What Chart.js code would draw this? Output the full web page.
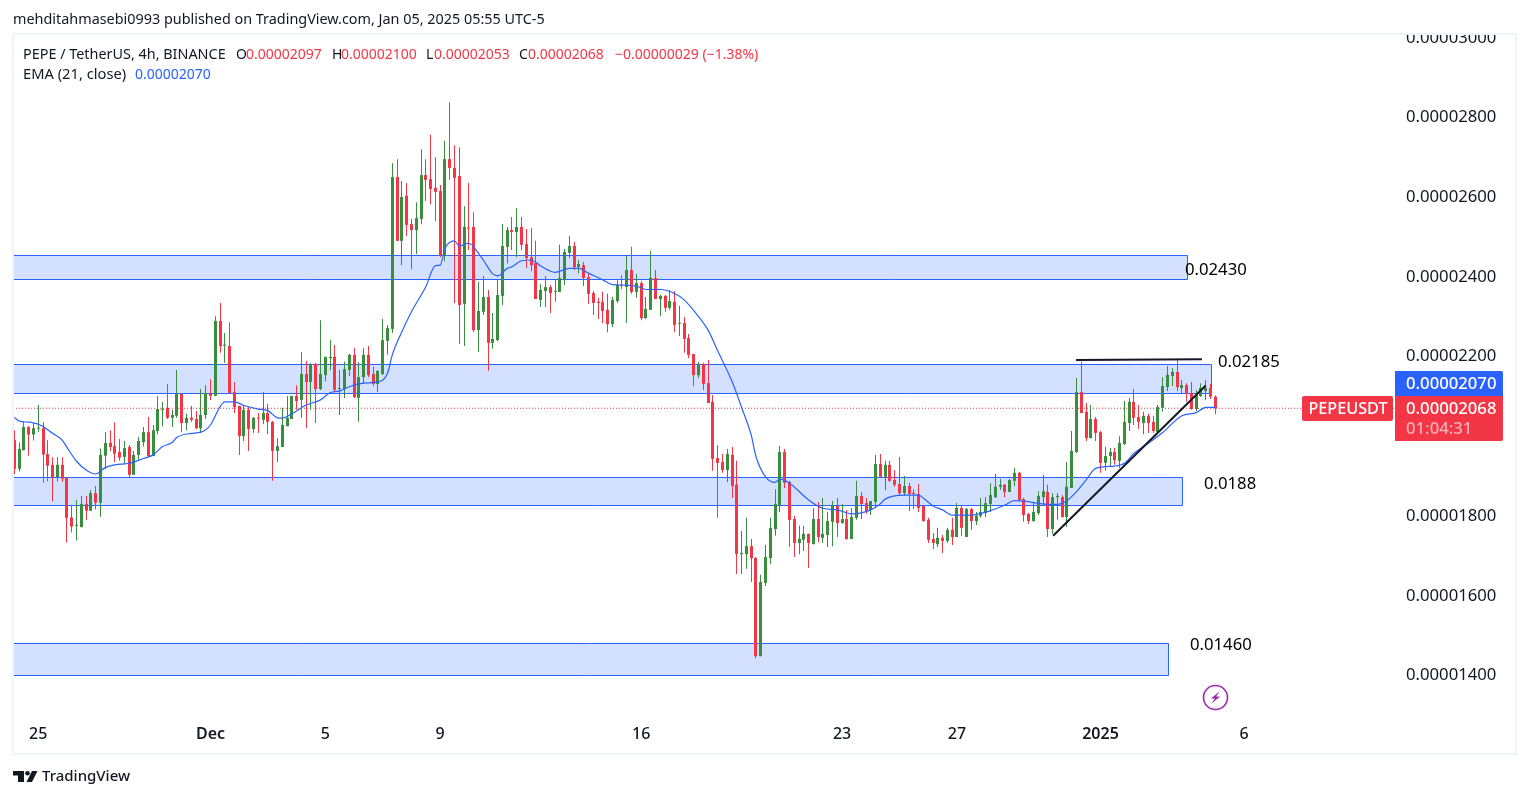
<!DOCTYPE html>
<html>
<head>
<meta charset="utf-8">
<title>PEPEUSDT 4h</title>
<script src="https://cdn.jsdelivr.net/npm/chart.js@4/dist/chart.umd.min.js"></script>
<style>
  html, body { margin: 0; padding: 0; background: #fff; }
  canvas { display: block; }
</style>
</head>
<body>
<canvas id="priceChart" width="1529" height="798"></canvas>
<script>
// prices are in units of 0.00000001
const opens = [
  1988,1916,1963,2021,2002,2017,2018,1953,1926,1895,
  1926,1895,1794,1773,1770,1828,1811,1855,1831,1949,
  1981,1973,1958,1946,1971,1901,1951,1983,2008,1948,
  2011,2064,2069,2044,2049,2104,2031,2044,2041,2018,
  2051,2106,2099,2287,2225,2224,2109,2074,1998,2064,
  2016,2044,2039,2056,2034,1961,1971,2023,2041,2099,
  2089,2154,2134,2179,2116,2151,2194,2197,2116,2116,
  2164,2202,2094,2146,2202,2154,2129,2154,2237,2267,
  2648,2488,2601,2530,2515,2543,2653,2643,2621,2613,
  2450,2693,2671,2651,2330,2520,2523,2264,2310,2347,
  2232,2239,2350,2473,2515,2510,2523,2480,2447,2432,
  2340,2362,2372,2360,2360,2392,2458,2475,2422,2427,
  2397,2357,2335,2335,2315,2279,2337,2377,2372,2415,
  2360,2382,2294,2315,2395,2342,2350,2320,2335,2280,
  2282,2244,2204,2151,2179,2131,2084,1943,1933,1913,
  1951,1876,1702,1702,1722,1692,1446,1630,1692,1765,
  1825,1958,1883,1790,1730,1738,1753,1727,1790,1743,
  1750,1783,1823,1780,1790,1740,1793,1848,1830,1813,
  1833,1928,1896,1926,1888,1878,1855,1873,1855,1853,
  1823,1788,1740,1727,1743,1735,1763,1745,1818,1745,
  1815,1785,1798,1805,1828,1845,1871,1876,1858,1886,
  1906,1840,1803,1785,1805,1845,1858,1765,1845,1845,
  1795,1868,1958,2109,2059,1993,2041,2008,1931,1948,
  1958,1936,1978,2031,2084,2046,2031,2049,2034,2008,
  2069,2121,2149,2159,2119,2126,2106,2066,2099,2111,
  2119,2097
];
const closes = [
  1916,1966,2021,2002,2018,2018,1952,1924,1895,1926,
  1891,1793,1771,1774,1828,1811,1855,1831,1951,1981,
  1971,1954,1944,1968,1901,1951,1986,2008,1948,2013,
  2066,2066,2044,2051,2104,2031,2044,2039,2018,2051,
  2106,2099,2287,2224,2227,2106,2071,1998,2064,2016,
  2044,2042,2056,2034,1961,1973,2026,2044,2099,2086,
  2154,2134,2179,2116,2154,2197,2197,2114,2119,2166,
  2202,2096,2146,2202,2151,2129,2162,2239,2269,2648,
  2488,2598,2528,2515,2545,2653,2641,2618,2611,2450,
  2693,2671,2646,2327,2523,2519,2264,2312,2347,2232,
  2242,2352,2475,2515,2510,2523,2478,2445,2427,2342,
  2365,2372,2357,2362,2395,2460,2475,2422,2430,2395,
  2355,2332,2332,2312,2279,2340,2377,2375,2415,2360,
  2382,2294,2317,2395,2342,2350,2320,2337,2277,2282,
  2242,2202,2151,2179,2129,2081,1941,1931,1913,1953,
  1873,1702,1705,1722,1692,1446,1632,1695,1768,1828,
  1958,1881,1788,1730,1740,1753,1730,1790,1745,1753,
  1785,1823,1780,1790,1740,1795,1848,1828,1810,1835,
  1928,1896,1926,1886,1876,1855,1873,1853,1853,1818,
  1785,1738,1730,1743,1735,1763,1745,1818,1768,1815,
  1785,1798,1808,1830,1850,1871,1876,1858,1888,1906,
  1838,1800,1785,1808,1848,1860,1765,1845,1848,1795,
  1871,1961,2109,2056,1993,2041,2006,1931,1948,1958,
  1938,1981,2034,2084,2044,2034,2049,2031,2011,2071,
  2124,2152,2159,2121,2126,2104,2066,2101,2119,2119,
  2097,2068
];
const highs = [
  2013,1982,2034,2023,2032,2076,2033,1988,1945,1945,
  1945,1895,1824,1838,1848,1848,1863,1873,1967,2008,
  2013,2033,1991,1986,1976,1961,1996,2021,2046,2026,
  2099,2084,2129,2064,2164,2106,2054,2074,2061,2116,
  2126,2141,2299,2332,2257,2284,2134,2074,2076,2071,
  2046,2056,2109,2079,2036,1993,2069,2099,2099,2126,
  2209,2187,2181,2182,2289,2197,2239,2227,2164,2185,
  2204,2219,2184,2219,2224,2172,2162,2292,2277,2683,
  2693,2638,2633,2543,2585,2718,2693,2754,2698,2628,
  2739,2836,2728,2723,2575,2633,2560,2385,2400,2365,
  2307,2390,2530,2523,2548,2570,2548,2518,2520,2488,
  2380,2400,2377,2390,2478,2468,2500,2485,2440,2435,
  2405,2362,2345,2360,2355,2347,2390,2402,2450,2473,
  2405,2387,2347,2463,2415,2352,2352,2365,2362,2325,
  2297,2254,2204,2184,2182,2189,2101,1976,1953,1966,
  1971,1936,1760,1793,1740,1695,1650,1725,1793,1865,
  1973,1966,1886,1798,1773,1773,1753,1818,1833,1843,
  1808,1835,1843,1828,1813,1818,1886,1858,1843,1835,
  1951,1953,1936,1936,1913,1946,1898,1881,1865,1878,
  1825,1793,1755,1768,1750,1768,1793,1830,1823,1818,
  1818,1808,1843,1845,1880,1903,1891,1878,1891,1918,
  1908,1843,1805,1833,1860,1901,1876,1855,1855,1850,
  1933,2011,2144,2184,2081,2076,2046,2011,1971,1968,
  1968,1998,2086,2094,2116,2076,2059,2054,2049,2076,
  2146,2174,2169,2192,2139,2131,2134,2114,2131,2139,
  2129,2100
];
const lows = [
  1903,1909,1962,1949,1987,2009,1881,1885,1834,1884,
  1883,1731,1756,1736,1769,1788,1811,1814,1796,1915,
  1961,1933,1936,1927,1895,1901,1938,1972,1948,1948,
  2003,2023,2041,2021,2044,2008,2013,2034,2016,2006,
  2041,2089,2099,2207,2182,2104,2056,1951,1986,1961,
  2006,2006,2028,2003,1886,1933,1971,2023,2041,2064,
  2044,2018,2064,2031,2114,2136,2164,2109,2051,2094,
  2149,2094,2034,2129,2146,2124,2109,2151,2202,2257,
  2488,2427,2500,2417,2455,2530,2588,2580,2538,2447,
  2437,2641,2332,2229,2224,2465,2259,2209,2302,2162,
  2217,2237,2327,2432,2465,2447,2465,2420,2412,2342,
  2322,2322,2307,2335,2360,2377,2445,2415,2407,2375,
  2330,2302,2292,2282,2259,2272,2332,2367,2282,2355,
  2345,2289,2292,2315,2342,2299,2310,2315,2259,2249,
  2207,2194,2124,2144,2114,2081,1911,1793,1906,1883,
  1843,1652,1652,1665,1632,1441,1446,1622,1677,1748,
  1808,1868,1720,1695,1702,1710,1667,1727,1732,1730,
  1720,1722,1745,1778,1738,1740,1788,1790,1803,1800,
  1820,1896,1863,1883,1871,1850,1848,1810,1815,1808,
  1783,1730,1715,1720,1705,1730,1725,1745,1748,1745,
  1763,1775,1793,1795,1808,1843,1863,1845,1858,1873,
  1835,1783,1778,1783,1800,1823,1745,1753,1788,1793,
  1770,1868,1956,2056,1986,1993,1986,1906,1911,1923,
  1926,1918,1976,2011,2026,2016,2003,2006,2006,2008,
  2059,2111,2124,2111,2106,2084,2064,2061,2096,2089,
  2091,2053
];

// EMA(21), at the candles where it was readable
const emaBars = [
  0,1,3,4,5,6,8,10,11,13,15,17,19,21,24,27,29,31,33,34,37,39,41,43,44,46,48,51,53,55,
  56,58,61,64,66,68,70,73,76,78,79,81,83,86,88,89,90,92,93,95,97,98,100,101,103,104,106,108,110,113,
  116,118,120,123,125,128,131,132,135,138,140,143,145,147,150,152,154,155,157,159,160,162,166,169,172,175,179,181,182,186,
  189,190,192,194,196,200,204,207,209,211,216,218,220,222,224,226,230,232,234,237,240,244,247,249,251
];
const emaValues = [
  2045,2036,2033,2031,2028,2022,2005,1988,1970,1935,1913,1903,1919,1926,1930,1942,1951,1972,1982,1995,2005,2008,2026,2072,2084,2084,2075,2066,2062,2044,
  2043,2054,2076,2089,2107,2111,2122,2131,2134,2156,2202,2260,2310,2373,2426,2427,2469,2488,2475,2482,2457,2440,2405,2400,2419,2423,2438,2440,2425,2409,
  2419,2419,2407,2390,2378,2377,2371,2366,2366,2356,2340,2298,2264,2212,2135,2070,2001,1947,1896,1882,1890,1880,1838,1817,1813,1803,1813,1828,1840,1850,
  1850,1842,1823,1813,1800,1800,1811,1825,1836,1835,1827,1827,1836,1859,1888,1917,1923,1930,1955,1980,2007,2049,2057,2070,2070
];

const priceTicks = [1400, 1600, 1800, 2000, 2200, 2400, 2600, 2800, 3000];
const timeTickBars = [5, 41, 65, 89, 131, 173, 197, 227, 257];
const timeTickLabels = ["25", "Dec", "5", "9", "16", "23", "27", "2025", "6"];

// drawn boxes: top price, bottom price, last bar
const zoneTops = [2452, 2179, 1895, 1479];
const zoneBottoms = [2392, 2107, 1825, 1399];
const zoneEnds = [245.1, 250.1, 244, 241.1];
const zoneTexts = ["0.02430", "0.02185", "0.0188", "0.01460"];

const trendBars = [217.1, 249];
const trendPrices = [1748, 2125];
const topLineBars = [221.9, 248.2];
const topLinePrices = [2189, 2191];

const lastClose = closes[closes.length - 1];
const UP = "#388e3c", DOWN = "#f23645", BLUE = "#2962ff", INK = "#131722";
const FONT = '"Noto Sans", sans-serif';
const X_MIN = -0.272, X_MAX = 288.55;

const xy = (xs, ys) => xs.map((x, i) => ({ x: x, y: ys[i] }));
const candleColor = opens.map((o, i) => (closes[i] >= o ? UP : DOWN));

const overlay = {
  id: "overlay",
  // snap candles to whole pixels so wicks stay crisp
  afterDatasetsUpdate(chart) {
    chart.data.datasets.forEach((ds, i) => {
      if (ds.type === "bar") chart.getDatasetMeta(i).data.forEach(el => { el.x = Math.floor(el.x) + 0.5; });
    });
  },
  beforeDatasetsDraw(chart) {
    const { ctx, scales } = chart;
    const x = scales.x, y = scales.y;
    zoneTops.forEach((top, i) => {
      const x0 = Math.round(x.getPixelForValue(X_MIN)) + 0.5;
      const x1 = Math.round(x.getPixelForValue(zoneEnds[i])) + 0.5;
      const y0 = Math.round(y.getPixelForValue(top)) + 0.5;
      const y1 = Math.round(y.getPixelForValue(zoneBottoms[i])) + 0.5;
      ctx.fillStyle = "rgba(41,98,255,0.2)";
      ctx.fillRect(x0, y0, x1 - x0, y1 - y0);
      ctx.strokeStyle = BLUE;
      ctx.lineWidth = 1;
      ctx.beginPath();
      ctx.moveTo(x0 - 1, y0); ctx.lineTo(x1, y0); ctx.lineTo(x1, y1); ctx.lineTo(x0 - 1, y1);
      ctx.stroke();
    });
  },
  afterDraw(chart) {
    const ctx = chart.ctx;
    const text = (s, px, py, color, font, align) => {
      ctx.fillStyle = color;
      ctx.font = font;
      ctx.textAlign = align || "left";
      ctx.textBaseline = "middle";
      ctx.fillText(s, px, py);
    };

    // cuts the 0.00003000 tick at the top edge of the pane, then the frame
    ctx.fillStyle = "#fff";
    ctx.fillRect(1380, 20, 140, 13);
    ctx.strokeStyle = "#f0f3fa";
    ctx.lineWidth = 2;
    ctx.strokeRect(13, 34, 1503, 720);

    // header
    text("mehditahmasebi0993 published on TradingView.com, Jan 05, 2025 05:55 UTC-5", 13, 20, INK, "14.4px " + FONT);
    text("PEPE / TetherUS, 4h, BINANCE", 23, 55, INK, "14.4px " + FONT);
    [["O", 236, "0.00002097", 246], ["H", 332, "0.00002100", 341], ["L", 426, "0.00002053", 434], ["C", 519, "0.00002068", 528]].forEach(p => {
      text(p[0], p[1], 55, INK, "14px " + FONT);
      text(p[2], p[3], 55, DOWN, "14px " + FONT);
    });
    text("\u22120.00000029 (\u22121.38%)", 615, 55, DOWN, "14px " + FONT);
    text("EMA (21, close)", 23, 75, INK, "14.7px " + FONT);
    text("0.00002070", 135, 75, BLUE, "14px " + FONT);

    // notes next to the boxes
    const noteX = [1185, 1218, 1204, 1190], noteY = [270, 362, 484, 645];
    zoneTexts.forEach((s, i) => text(s, noteX[i], noteY[i], "#000", "16.7px " + FONT));

    // last price tags
    ctx.fillStyle = DOWN;
    ctx.beginPath();
    ctx.roundRect(1302, 396, 91, 25, 2);
    ctx.fill();
    text("PEPEUSDT", 1348, 409, "#fff", "500 16.2px " + FONT, "center");
    ctx.fillStyle = BLUE;
    ctx.beginPath();
    ctx.roundRect(1395, 371, 108, 25, [0, 2, 0, 0]);
    ctx.fill();
    text("0.00002070", 1406, 384, "#fff", "500 16.7px " + FONT);
    ctx.fillStyle = DOWN;
    ctx.beginPath();
    ctx.roundRect(1395, 396, 108, 45, [0, 0, 2, 0]);
    ctx.fill();
    text("0.00002068", 1406, 409, "#fff", "500 16.7px " + FONT);
    text("01:04:31", 1406, 429, "rgba(255,255,255,0.6)", "500 16.7px " + FONT);

    // purple flash badge
    ctx.strokeStyle = "#9c27b0";
    ctx.lineWidth = 1.6;
    ctx.beginPath();
    ctx.arc(1215.5, 697.5, 12, 0, Math.PI * 2);
    ctx.stroke();
    ctx.fillStyle = "#9c27b0";
    ctx.beginPath();
    [[1220, 691], [1211, 698.5], [1215, 698.5], [1211, 704], [1220, 696.5], [1216, 696.5]].forEach((p, i) => {
      if (i) ctx.lineTo(p[0], p[1]); else ctx.moveTo(p[0], p[1]);
    });
    ctx.closePath();
    ctx.fill();

    // TradingView mark
    ctx.fillStyle = INK;
    ctx.fillRect(13, 771, 11, 4.5);
    ctx.fillRect(18, 771, 6, 11);
    ctx.beginPath();
    ctx.arc(27.5, 773.2, 2.3, 0, Math.PI * 2);
    ctx.fill();
    ctx.beginPath();
    ctx.moveTo(32, 771); ctx.lineTo(37.5, 771); ctx.lineTo(32, 782); ctx.lineTo(26.5, 782);
    ctx.closePath();
    ctx.fill();
    text("TradingView", 42, 777, INK, "500 15px " + FONT);
  }
};

new Chart(document.getElementById("priceChart"), {
  data: {
    datasets: [
      { type: "line", data: xy(topLineBars, topLinePrices), borderColor: "#131722", borderWidth: 2, pointRadius: 0, order: 0 },
      { type: "line", data: xy(trendBars, trendPrices), borderColor: "#131722", borderWidth: 2, pointRadius: 0, order: 0 },
      { type: "line", data: xy(emaBars, emaValues), borderColor: BLUE, borderWidth: 1.2, pointRadius: 0, cubicInterpolationMode: "monotone", order: 1 },
      { type: "line", data: xy([X_MIN, X_MAX], [lastClose, lastClose]), borderColor: DOWN, borderWidth: 1, borderDash: [1, 2], pointRadius: 0, order: 4 },
      { type: "bar", data: opens.map((o, i) => ({ x: i, y: [o, closes[i]] })), backgroundColor: candleColor, barThickness: 3, minBarLength: 1, grouped: false, inflateAmount: 0, order: 2 },
      { type: "bar", data: opens.map((o, i) => ({ x: i, y: [lows[i], highs[i]] })), backgroundColor: candleColor, barThickness: 1, grouped: false, inflateAmount: 0, order: 3 }
    ]
  },
  options: {
    responsive: false,
    animation: false,
    layout: { padding: { left: 13, right: 13, top: 34, bottom: 44 } },
    plugins: { legend: { display: false }, tooltip: { enabled: false } },
    scales: {
      x: {
        type: "linear",
        offset: false,
        min: X_MIN,
        max: X_MAX,
        grid: { display: false, drawTicks: false },
        border: { display: false },
        afterBuildTicks(axis) { axis.ticks = timeTickBars.map(v => ({ value: v })); },
        afterFit(axis) { axis.height = 32; axis.paddingLeft = 0; axis.paddingRight = 0; },
        ticks: {
          autoSkip: false,
          maxRotation: 0,
          padding: 3,
          color: INK,
          font: c => ({ family: FONT, size: 16, weight: [41, 227].includes(c.tick && c.tick.value) ? "600" : "500" }),
          callback: v => timeTickLabels[timeTickBars.indexOf(v)]
        }
      },
      y: {
        position: "right",
        min: 1280.8,
        max: 3007,
        grid: { display: false, drawTicks: false },
        border: { display: false },
        afterBuildTicks(axis) { axis.ticks = priceTicks.map(v => ({ value: v })); },
        afterFit(axis) { axis.width = 121; axis.paddingTop = 0; axis.paddingBottom = 0; },
        ticks: {
          autoSkip: false,
          padding: 11,
          labelOffset: 1,
          color: INK,
          font: { family: FONT, size: 16.7 },
          callback: v => (v / 1e8).toFixed(8)
        }
      }
    }
  },
  plugins: [overlay]
});
</script>
</body>
</html>
